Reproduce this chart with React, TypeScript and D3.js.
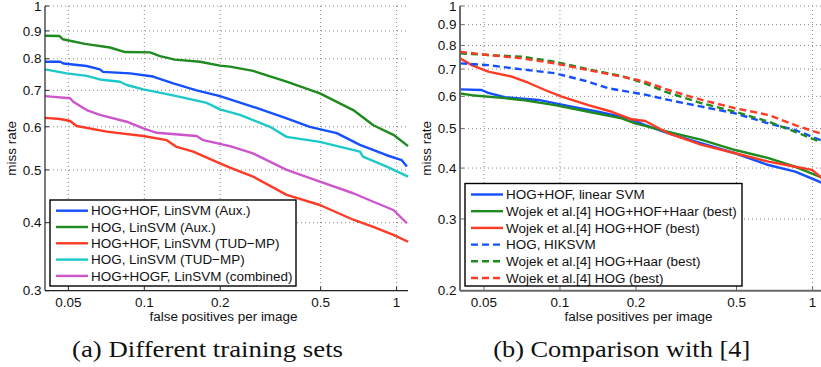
import { useLayoutEffect, useRef, useState } from 'react';
import * as d3 from 'd3';

// tick values
const xTickValues = [0.05, 0.1, 0.2, 0.5, 1];
const yTicksA = [0.3, 0.4, 0.5, 0.6, 0.7, 0.8, 0.9, 1];
const yTicksB = [0.2, 0.3, 0.4, 0.5, 0.6, 0.7, 0.8, 0.9, 1];

// (a) different training sets — fppi / miss rate
const auxHogHofFppi = [0.0404, 0.0464, 0.0478, 0.0591, 0.0667, 0.0686, 0.0878, 0.1083, 0.1303, 0.1612, 0.1995, 0.2186, 0.2701, 0.3667, 0.4531, 0.5792, 0.7157, 0.9139, 1.0484, 1.099];
const auxHogHofMiss = [0.790, 0.790, 0.784, 0.776, 0.765, 0.757, 0.752, 0.742, 0.721, 0.700, 0.683, 0.674, 0.653, 0.622, 0.600, 0.584, 0.556, 0.532, 0.521, 0.507];

const auxHogFppi = [0.0404, 0.0460, 0.0475, 0.0582, 0.0731, 0.0839, 0.1053, 0.1154, 0.1323, 0.1662, 0.1995, 0.2186, 0.2701, 0.3665, 0.4967, 0.6734, 0.8088, 0.9716, 1.111];
const auxHogMiss = [0.882, 0.881, 0.869, 0.852, 0.839, 0.823, 0.822, 0.809, 0.797, 0.790, 0.777, 0.774, 0.760, 0.726, 0.691, 0.644, 0.604, 0.580, 0.553];

const tudHogHofFppi = [0.0404, 0.0464, 0.0508, 0.0539, 0.0710, 0.0991, 0.1227, 0.1344, 0.1563, 0.1995, 0.2186, 0.2701, 0.3667, 0.4967, 0.6734, 0.8088, 0.9716, 1.111];
const tudHogHofMiss = [0.623, 0.620, 0.615, 0.602, 0.588, 0.577, 0.567, 0.551, 0.540, 0.514, 0.505, 0.486, 0.450, 0.431, 0.405, 0.393, 0.380, 0.369];

const tudHogFppi = [0.0404, 0.0493, 0.0591, 0.0667, 0.0801, 0.0852, 0.0991, 0.1189, 0.1385, 0.1767, 0.1995, 0.2394, 0.3149, 0.3667, 0.4967, 0.7157, 0.7358, 0.9139, 1.111];
const tudHogMiss = [0.765, 0.752, 0.744, 0.733, 0.726, 0.716, 0.703, 0.691, 0.681, 0.664, 0.646, 0.631, 0.600, 0.575, 0.563, 0.540, 0.529, 0.507, 0.486];

const combHogfFppi = [0.0404, 0.0508, 0.0523, 0.0591, 0.0667, 0.0852, 0.0991, 0.1120, 0.1612, 0.1713, 0.1995, 0.2186, 0.2701, 0.3667, 0.4967, 0.6734, 0.8088, 0.9716, 1.099];
const combHogfMiss = [0.683, 0.677, 0.667, 0.644, 0.631, 0.613, 0.596, 0.585, 0.577, 0.567, 0.558, 0.553, 0.536, 0.500, 0.476, 0.453, 0.437, 0.422, 0.399];

// (b) comparison with [4]
const linSvmFppi = [0.0402, 0.0489, 0.0520, 0.0605, 0.0820, 0.1113, 0.1418, 0.1865, 0.2173, 0.2687, 0.3644, 0.4939, 0.6693, 0.8541, 1.09];
const linSvmMiss = [0.624, 0.622, 0.612, 0.597, 0.588, 0.566, 0.550, 0.530, 0.510, 0.487, 0.460, 0.435, 0.407, 0.392, 0.368];

const wojekHofHaarFppi = [0.0402, 0.0447, 0.0605, 0.0705, 0.0955, 0.1295, 0.1756, 0.1983, 0.2173, 0.2687, 0.3644, 0.4939, 0.6693, 0.8541, 1.09];
const wojekHofHaarMiss = [0.610, 0.604, 0.594, 0.588, 0.571, 0.550, 0.530, 0.515, 0.508, 0.491, 0.469, 0.443, 0.423, 0.403, 0.379];

const wojekHofFppi = [0.0402, 0.0447, 0.0520, 0.0644, 0.0749, 0.0872, 0.1016, 0.1295, 0.1603, 0.1924, 0.2173, 0.2687, 0.3644, 0.4939, 0.6693, 0.8541, 0.9945, 1.09];
const wojekHofMiss = [0.744, 0.716, 0.690, 0.671, 0.648, 0.622, 0.599, 0.571, 0.550, 0.527, 0.522, 0.487, 0.456, 0.435, 0.415, 0.403, 0.396, 0.378];

const hikFppi = [0.0402, 0.0520, 0.0705, 0.0955, 0.1295, 0.1554, 0.1983, 0.2173, 0.2687, 0.3644, 0.4939, 0.6693, 0.8541, 1.09];
const hikMiss = [0.723, 0.716, 0.699, 0.684, 0.652, 0.628, 0.612, 0.606, 0.588, 0.566, 0.545, 0.515, 0.496, 0.467];

const wojekHaarFppi = [0.0402, 0.0520, 0.0705, 0.0955, 0.1295, 0.1756, 0.2173, 0.2608, 0.3644, 0.4939, 0.6693, 0.8541, 1.09];
const wojekHaarMiss = [0.765, 0.758, 0.751, 0.730, 0.699, 0.673, 0.646, 0.616, 0.577, 0.550, 0.520, 0.491, 0.462];

const wojekHogFppi = [0.0402, 0.0520, 0.0705, 0.0955, 0.1295, 0.1756, 0.2173, 0.2687, 0.3644, 0.4939, 0.6693, 0.8541, 1.09];
const wojekHogMiss = [0.772, 0.758, 0.744, 0.723, 0.696, 0.671, 0.652, 0.622, 0.588, 0.561, 0.540, 0.510, 0.485];

const BLUE = '#1450ff';
const GREEN = '#1f8a1f';
const RED = '#ff3b26';
const CYAN = '#1cc8c8';
const MAGENTA = '#cc55cc';

type Series = { name: string; color: string; dashed?: boolean; fppi: number[]; miss: number[] };

const seriesA: Series[] = [
  { name: 'HOG+HOF, LinSVM (Aux.)', color: BLUE, fppi: auxHogHofFppi, miss: auxHogHofMiss },
  { name: 'HOG, LinSVM (Aux.)', color: GREEN, fppi: auxHogFppi, miss: auxHogMiss },
  { name: 'HOG+HOF, LinSVM (TUD\u2212MP)', color: RED, fppi: tudHogHofFppi, miss: tudHogHofMiss },
  { name: 'HOG, LinSVM (TUD\u2212MP)', color: CYAN, fppi: tudHogFppi, miss: tudHogMiss },
  { name: 'HOG+HOGF, LinSVM (combined)', color: MAGENTA, fppi: combHogfFppi, miss: combHogfMiss },
];

const seriesB: Series[] = [
  { name: 'HOG+HOF, linear SVM', color: BLUE, fppi: linSvmFppi, miss: linSvmMiss },
  { name: 'Wojek et al.[4] HOG+HOF+Haar (best)', color: GREEN, fppi: wojekHofHaarFppi, miss: wojekHofHaarMiss },
  { name: 'Wojek et al.[4] HOG+HOF (best)', color: RED, fppi: wojekHofFppi, miss: wojekHofMiss },
  { name: 'HOG, HIKSVM', color: BLUE, dashed: true, fppi: hikFppi, miss: hikMiss },
  { name: 'Wojek et al.[4] HOG+Haar (best)', color: GREEN, dashed: true, fppi: wojekHaarFppi, miss: wojekHaarMiss },
  { name: 'Wojek et al.[4] HOG (best)', color: RED, dashed: true, fppi: wojekHogFppi, miss: wojekHogMiss },
];

const SANS = '"Liberation Sans", Arial, Helvetica, sans-serif';
const SERIF = '"Liberation Serif", "Times New Roman", serif';
const BASE_FS = 13.5;
// width the longest legend entry takes in the reference
const PROBE_TEXT = 'Wojek et al.[4] HOG+HOF+Haar (best)';
const PROBE_WIDTH = 231;

type PanelProps = {
  id: string;
  fs: number;
  left: number;
  right: number;
  xDomain: [number, number];
  yDomain: [number, number];
  yTicks: number[];
  series: Series[];
  axisColor: string;
  axisWidth: number;
  legend: { x: number; y: number; w: number; h: number; row0: number; step: number };
  caption: string;
  captionX: number;
  captionWidth: number;
};

const TOP = 6;
const BOTTOM = 290.7;

function Panel(p: PanelProps) {
  const x = d3.scaleLog().domain(p.xDomain).range([p.left, p.right]);
  const y = d3.scaleLog().domain(p.yDomain).range([BOTTOM, TOP]);
  const line = d3
    .line<[number, number]>()
    .x((d) => x(d[0]))
    .y((d) => y(d[1]));
  const fmt = (v: number) => String(v);
  const mid = (p.left + p.right) / 2;
  const lg = p.legend;
  const FS = p.fs;
  return (
    <g>
      <defs>
        <clipPath id={`clip-${p.id}`}>
          <rect x={p.left} y={TOP - 2} width={p.right - p.left + 2} height={BOTTOM - TOP + 2} />
        </clipPath>
      </defs>
      {/* grid */}
      {xTickValues.map((t) => (
        <line key={`gx${t}`} x1={x(t)} x2={x(t)} y1={TOP} y2={BOTTOM} stroke="#8a8a8a" strokeWidth={1} strokeDasharray="1,3" />
      ))}
      {p.yTicks.map((t) => (
        <line key={`gy${t}`} x1={p.left} x2={p.right} y1={y(t)} y2={y(t)} stroke="#8a8a8a" strokeWidth={1} strokeDasharray="1,3" />
      ))}
      {/* curves */}
      <g clipPath={`url(#clip-${p.id})`}>
        {p.series.map((s) => (
          <path
            key={s.name}
            d={line(s.fppi.map((f, i) => [f, s.miss[i]] as [number, number])) || ''}
            fill="none"
            stroke={s.color}
            strokeWidth={2.4}
            strokeDasharray={s.dashed ? '7,4' : undefined}
            strokeLinejoin="round"
          />
        ))}
      </g>
      {/* axes */}
      <line x1={p.left} x2={p.left} y1={TOP} y2={BOTTOM} stroke={p.axisColor} strokeWidth={p.axisWidth} />
      <line x1={p.left} x2={p.right} y1={BOTTOM} y2={BOTTOM} stroke={p.axisColor} strokeWidth={p.axisWidth} />
      {p.yTicks.map((t) => (
        <g key={`ty${t}`}>
          <line x1={p.left} x2={p.left + 4} y1={y(t)} y2={y(t)} stroke={p.axisColor} strokeWidth={1} />
          <text x={p.left - 3.5} y={y(t)} dy="0.35em" textAnchor="end" fontFamily={SANS} fontSize={FS} fill="#111">
            {fmt(t)}
          </text>
        </g>
      ))}
      {xTickValues.map((t) => (
        <g key={`tx${t}`}>
          <line x1={x(t)} x2={x(t)} y1={BOTTOM} y2={BOTTOM - 4} stroke={p.axisColor} strokeWidth={1} />
          <text x={x(t)} y={306.5} textAnchor="middle" fontFamily={SANS} fontSize={FS} fill="#111">
            {fmt(t)}
          </text>
        </g>
      ))}
      <text x={mid - 3} y={321} textAnchor="middle" fontFamily={SANS} fontSize={FS} fill="#111">
        false positives per image
      </text>
      <text
        transform={`translate(${p.left - 29},${(TOP + BOTTOM) / 2}) rotate(-90)`}
        textAnchor="middle"
        fontFamily={SANS}
        fontSize={FS}
        fill="#111"
      >
        miss rate
      </text>
      {/* legend */}
      <rect x={lg.x} y={lg.y} width={lg.w} height={lg.h} fill="#fff" stroke="#000" strokeWidth={1.4} />
      {p.series.map((s, i) => {
        const ry = lg.row0 + i * lg.step;
        return (
          <g key={`lg${i}`}>
            <line
              x1={lg.x + 6}
              x2={lg.x + 38}
              y1={ry}
              y2={ry}
              stroke={s.color}
              strokeWidth={2.4}
              strokeDasharray={s.dashed ? '7,4' : undefined}
            />
            <text x={lg.x + 41} y={ry} dy="0.35em" fontFamily={SANS} fontSize={FS} fill="#111">
              {s.name}
            </text>
          </g>
        );
      })}
      <text
        x={p.captionX}
        y={357}
        textAnchor="middle"
        fontFamily={SERIF}
        fontSize={23}
        textLength={p.captionWidth}
        lengthAdjust="spacingAndGlyphs"
        fill="#111"
      >
        {p.caption}
      </text>
    </g>
  );
}

export default function App() {
  const probeRef = useRef<SVGTextElement>(null);
  const [fs, setFs] = useState(BASE_FS);

  // the installed sans may run narrower than Helvetica: size it so the legend fills its box
  useLayoutEffect(() => {
    const el = probeRef.current;
    if (!el) return;
    const w = el.getComputedTextLength();
    if (w > 0) setFs(Math.min(16, Math.max(12, (BASE_FS * PROBE_WIDTH) / w)));
  }, []);

  return (
    <svg
      width={821}
      height={367}
      viewBox="0 0 821 367"
      style={{ position: 'absolute', left: 0, top: 0, background: '#fff' }}
    >
      <rect x={0} y={0} width={821} height={367} fill="#fff" />
      <text ref={probeRef} x={0} y={-50} fontFamily={SANS} fontSize={BASE_FS} opacity={0}>
        {PROBE_TEXT}
      </text>
      <Panel
        id="a"
        fs={fs}
        left={45}
        right={408}
        xDomain={[0.0404, 1.11]}
        yDomain={[0.3, 1]}
        yTicks={yTicksA}
        series={seriesA}
        axisColor="#222"
        axisWidth={1.2}
        legend={{ x: 50, y: 200, w: 246, h: 86, row0: 210.7, step: 16.3 }}
        caption="(a) Different training sets"
        captionX={207.5}
        captionWidth={271}
      />
      <Panel
        id="b"
        fs={fs}
        left={460}
        right={823}
        xDomain={[0.0402, 1.1]}
        yDomain={[0.2, 1]}
        yTicks={yTicksB}
        series={seriesB}
        axisColor="#6a6a6a"
        axisWidth={2}
        legend={{ x: 465, y: 183.5, w: 277, h: 102.5, row0: 194.5, step: 16.7 }}
        caption="(b) Comparison with [4]"
        captionX={621.7}
        captionWidth={257}
      />
    </svg>
  );
}
